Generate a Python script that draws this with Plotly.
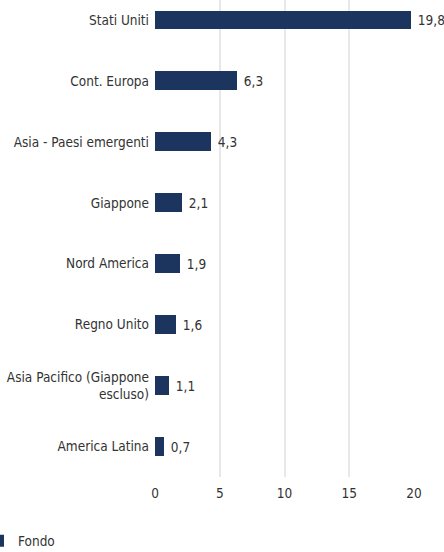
import plotly.graph_objects as go

categories = ["Stati Uniti", "Cont. Europa", "Asia - Paesi emergenti", "Giappone",
              "Nord America", "Regno Unito", "Asia Pacifico (Giappone<br>escluso)", "America Latina"]
values = [19.8, 6.3, 4.3, 2.1, 1.9, 1.6, 1.1, 0.7]
series_name = "Fondo"
x_ticks = [0, 5, 10, 15, 20]

FONT = "DejaVu Sans Condensed, Liberation Sans Narrow, Roboto, sans-serif"
FS = 13.5
W, H = 444, 552
ML, MR, MT, MB = 155, 30, 0, 75
plot_w = W - ML - MR
plot_h = H - MT - MB

fig = go.Figure(go.Bar(
    x=values, y=categories, orientation="h", name=series_name,
    marker=dict(color="#1c355e", line=dict(width=0)),
    width=0.31,
    text=[" " + f"{v:.1f}".replace(".", ",") for v in values],
    textposition="outside", cliponaxis=False,
    textfont=dict(family=FONT, size=FS, color="#333333"),
    showlegend=True,
))

fig.update_layout(
    width=W, height=H,
    margin=dict(l=ML, r=MR, t=MT, b=MB, pad=0, autoexpand=False),
    paper_bgcolor="white", plot_bgcolor="white",
    font=dict(family=FONT, size=FS, color="#333333"),
    separators=",.",
    bargap=0,
    showlegend=True,
    legend=dict(orientation="h", x=(-22 - ML) / plot_w, xanchor="left",
                y=-(541 - plot_h) / plot_h, yanchor="middle",
                font=dict(family=FONT, size=FS, color="#333333"),
                bgcolor="rgba(0,0,0,0)"),
    xaxis=dict(range=[0, 20], tickvals=x_ticks, showgrid=True, gridcolor="#e8e8e8",
               gridwidth=2, zeroline=False, showline=False, ticks="", automargin=False,
               ticklabelstandoff=6, tickfont=dict(family=FONT, size=FS, color="#333333")),
    yaxis=dict(type="category", categoryorder="array", categoryarray=categories,
               range=[7.5, -0.328], showgrid=False, zeroline=False, showline=False,
               ticks="", ticklabelstandoff=5, automargin=False,
               tickfont=dict(family=FONT, size=FS, color="#333333")),
)

fig.write_html("out.html", config={"displayModeBar": False},
               post_script="document.body.style.margin='0';document.body.style.overflow='hidden';")
